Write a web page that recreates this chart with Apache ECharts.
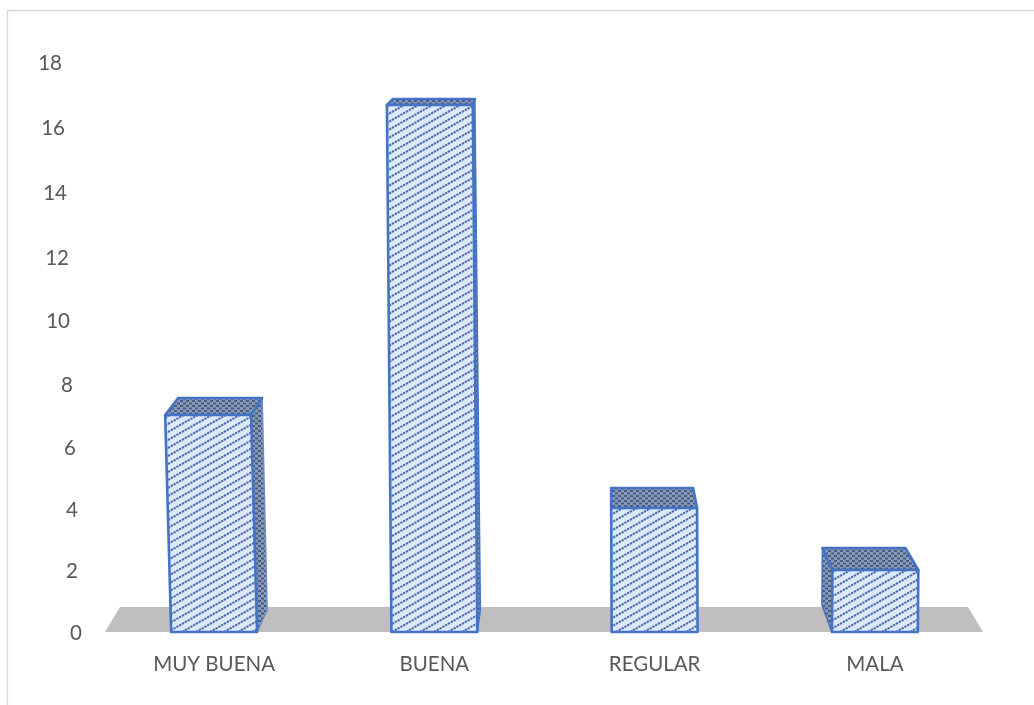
<!DOCTYPE html>
<html><head><meta charset="utf-8">
<style>html,body{margin:0;padding:0;background:#fff}#c{width:1034px;height:705px}</style>
<script src="https://cdn.jsdelivr.net/npm/echarts@6/dist/echarts.min.js"></script>
</head><body><div id="c"></div>
<script>
const categories = ['MUY BUENA', 'BUENA', 'REGULAR', 'MALA'];
const values = [7, 17, 4, 2];
const tickLabels = [0, 2, 4, 6, 8, 10, 12, 14, 16, 18];

// Perspective styling (pixels), not data
const tickDown = [1, 2.3, 4.7, 6, 6.3, 5.7, 6, 4.3, 3, 1];
const tickRight = [0, 4, 4, 6, 9, 12, 13, 15, 17, 20];
const barLean = [-6, -4.5, -0.5, 0.5];
const backTop = [[13, 11, -17], [6, 2, -6], [0, -4, -20], [-10, -13, -22]];
const backBase = [[null, 10, -22], [null, 3, -22], null, [-10, null, -27]];

function tile(w, h, bg, draw) {
  const c = document.createElement('canvas'); c.width = w; c.height = h;
  const g = c.getContext('2d'); g.fillStyle = bg; g.fillRect(0, 0, w, h); draw(g);
  return { image: c, repeat: 'repeat' };
}
const frontFill = tile(14, 8, '#DDE9FB', g => {
  g.strokeStyle = '#4C6DAE'; g.lineWidth = 2;
  g.setLineDash([2.4, 0.82]);
  for (const o of [-8, 0, 8]) {
    g.beginPath(); g.moveTo(-14, 16 + o); g.lineTo(28, -8 + o); g.stroke();
  }
});
const darkFill = tile(6, 5, '#8A9BB8', g => {
  g.fillStyle = '#465A82'; g.fillRect(0, 0, 3, 2); g.fillRect(3, 2.5, 3, 2);
});
const edge = '#4472C4';

const rich = {};
tickLabels.forEach((t, i) => {
  rich['t' + t] = { color: '#595959', fontFamily: 'Lato', fontSize: 20.5,
    padding: [tickDown[i] * 2, tickRight[i], 0, 0] };
});

const chart = echarts.init(document.getElementById('c'), null, { renderer: 'canvas' });
chart.setOption({
  animation: false,
  backgroundColor: '#fff',
  grid: { left: 104, right: 49, top: 62, bottom: 73 },
  graphic: [
    { type: 'polyline', silent: true, shape: { points: [[7.5, 705], [7.5, 10.5], [1034, 10.5]] },
      style: { stroke: '#D9D9D9', lineWidth: 1.3, fill: null } }
  ],
  xAxis: { type: 'category', data: categories, axisLine: { show: false }, axisTick: { show: false },
    axisLabel: { color: '#595959', fontFamily: 'Lato', fontSize: 20.5, margin: 22 } },
  yAxis: [
    { type: 'value', min: 0, max: 18, interval: 2, splitLine: { show: false },
      axisLine: { show: false }, axisTick: { show: false },
      axisLabel: { margin: 22, formatter: v => `{t${v}|${v}}`, rich } },
    { type: 'value', min: 0, max: 18.387, show: false, splitLine: { show: false } }
  ],
  series: [
    { type: 'custom', silent: true, xAxisIndex: 0, yAxisIndex: 1, z: 1,
      data: [0],
      renderItem(params, api) {
        const y = api.coord([0, 0])[1], c = params.coordSys;
        return { type: 'polygon', shape: { points: [
          [c.x + 1, y], [c.x + 16, y - 25], [c.x + c.width - 17, y - 25], [c.x + c.width - 2, y]
        ] }, style: { fill: '#BFBFBF' } };
      } },
    { type: 'custom', silent: true, xAxisIndex: 0, yAxisIndex: 1, z: 2,
      data: values.map((v, i) => [i, v]),
      encode: { x: 0, y: 1 },
      renderItem(params, api) {
        const i = api.value(0), v = api.value(1);
        const base = api.coord([i, 0]), top = api.coord([i, v]);
        const hw = api.size([1, 0])[0] * 0.195;
        const BL = [base[0] - hw, base[1]], BR = [base[0] + hw, base[1]];
        const TL = [top[0] - hw + barLean[i], top[1]], TR = [top[0] + hw + barLean[i], top[1]];
        const b = backTop[i];
        const KL = [TL[0] + b[0], TL[1] + b[2]], KR = [TR[0] + b[1], TR[1] + b[2]];
        const line = { stroke: edge, lineWidth: 2.6, lineJoin: 'round' };
        const kids = [];
        const s = backBase[i];
        if (s && s[1] !== null) {
          kids.push({ type: 'polygon', shape: { points: [TR, KR, [BR[0] + s[1], BR[1] + s[2]], BR] },
            style: Object.assign({ fill: darkFill }, line, { stroke: i === 0 ? '#6F8CC4' : edge, lineWidth: 1.6 }) });
        }
        if (s && s[0] !== null) {
          kids.push({ type: 'polygon', shape: { points: [TL, KL, [BL[0] + s[0], BL[1] + s[2]], BL] },
            style: Object.assign({ fill: darkFill }, line, { lineWidth: 1.6 }) });
        }
        kids.push({ type: 'polygon', shape: { points: [TL, KL, KR, TR] },
          style: Object.assign({ fill: darkFill }, line) });
        kids.push({ type: 'polygon', shape: { points: [BL, TL, TR, BR] },
          style: Object.assign({ fill: frontFill }, line) });
        return { type: 'group', children: kids };
      } }
  ]
});
</script></body></html>
